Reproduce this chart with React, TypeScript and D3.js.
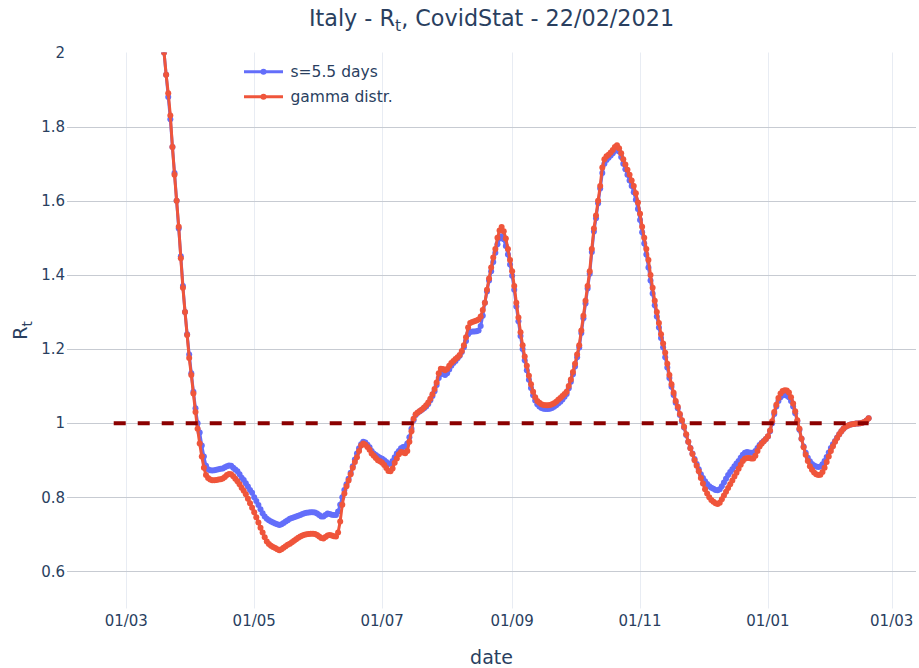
import React from "react";
import * as d3 from "d3";

// ---------- data ----------
const SERIES_NAMES = ["s=5.5 days", "gamma distr."];
const SERIES_COLORS = ["#636efa", "#ef553b"];
const START_DATE = "2020-03-16"; // first daily value, one value per day
const BLUE_VALUES = [
  2.2, 2.13, 2.06, 2.0, 1.94, 1.88, 1.82, 1.745, 1.675, 1.6,
  1.525, 1.45, 1.37, 1.3, 1.24, 1.185, 1.135, 1.085, 1.04, 1.0,
  0.975, 0.94, 0.91, 0.885, 0.876, 0.873, 0.872, 0.873, 0.874, 0.876,
  0.877, 0.878, 0.881, 0.884, 0.886, 0.885, 0.88, 0.875, 0.87, 0.862,
  0.853, 0.847, 0.838, 0.829, 0.82, 0.812, 0.8, 0.79, 0.779, 0.768,
  0.757, 0.748, 0.742, 0.738, 0.735, 0.732, 0.729, 0.727, 0.725, 0.727,
  0.731, 0.735, 0.738, 0.742, 0.744, 0.746, 0.748, 0.75, 0.752, 0.755,
  0.757, 0.758, 0.759, 0.76, 0.76, 0.759, 0.756, 0.752, 0.748, 0.748,
  0.752, 0.756, 0.755, 0.753, 0.752, 0.752, 0.762, 0.78, 0.8, 0.82,
  0.835, 0.85, 0.866, 0.884, 0.902, 0.918, 0.932, 0.943, 0.95, 0.948,
  0.942, 0.935, 0.925, 0.918, 0.914, 0.91, 0.907, 0.904, 0.9, 0.895,
  0.89, 0.891, 0.898, 0.908, 0.918, 0.925, 0.932, 0.936, 0.937, 0.945,
  0.962, 0.985, 1.008, 1.022, 1.028, 1.032, 1.036, 1.04, 1.045, 1.052,
  1.062, 1.073, 1.086, 1.103, 1.122, 1.132, 1.133, 1.13, 1.135, 1.145,
  1.155, 1.162, 1.168, 1.175, 1.182, 1.192, 1.205, 1.222, 1.24, 1.246,
  1.247, 1.247, 1.248, 1.25, 1.262, 1.29, 1.325, 1.355, 1.385, 1.41,
  1.435, 1.46, 1.483, 1.498, 1.504, 1.496, 1.478, 1.455, 1.428, 1.398,
  1.36, 1.315, 1.275, 1.235, 1.2, 1.17, 1.143, 1.117, 1.095, 1.075,
  1.061, 1.051, 1.045, 1.041, 1.039, 1.038, 1.038, 1.039, 1.041, 1.044,
  1.048, 1.053, 1.058, 1.064, 1.071, 1.079, 1.094, 1.112, 1.132, 1.153,
  1.178, 1.204, 1.243, 1.283, 1.323, 1.363, 1.403, 1.462, 1.517, 1.553,
  1.593, 1.633, 1.675, 1.7, 1.71, 1.716, 1.722, 1.728, 1.735, 1.742,
  1.733, 1.718, 1.7, 1.685, 1.67, 1.655, 1.64, 1.623, 1.603, 1.578,
  1.548, 1.515, 1.485, 1.455, 1.42, 1.385, 1.35, 1.318, 1.288, 1.258,
  1.23, 1.205, 1.178, 1.15, 1.122, 1.098, 1.076, 1.055, 1.04, 1.022,
  1.005, 0.988, 0.968, 0.95, 0.933, 0.918, 0.903, 0.89, 0.876, 0.862,
  0.852, 0.843, 0.836, 0.83, 0.826, 0.823, 0.82, 0.819, 0.822, 0.83,
  0.84, 0.85, 0.86, 0.868, 0.876, 0.884, 0.891, 0.898, 0.907, 0.915,
  0.92, 0.922, 0.921, 0.92, 0.92, 0.925, 0.933, 0.941, 0.947, 0.952,
  0.957, 0.964, 0.978, 1.0, 1.025, 1.045, 1.06, 1.07, 1.075, 1.076,
  1.074, 1.07, 1.06, 1.045, 1.027, 1.005, 0.982, 0.958, 0.937, 0.92,
  0.907, 0.897, 0.89, 0.886, 0.883, 0.882, 0.883, 0.889, 0.898, 0.909,
  0.921, 0.933, 0.943, 0.952, 0.961, 0.97, 0.978, 0.985, 0.99, 0.993,
  0.996, 0.997, 0.998, 0.999, 0.999, 1.0, 1.001, 1.003, 1.007, 1.013,
];
const RED_VALUES = [
  2.21, 2.14, 2.07, 2.0, 1.94, 1.89, 1.83, 1.745, 1.67, 1.6,
  1.53, 1.445, 1.365, 1.3, 1.238, 1.176, 1.13, 1.08, 1.03, 0.985,
  0.945, 0.91, 0.88, 0.86, 0.852, 0.848, 0.846, 0.846, 0.847, 0.848,
  0.849, 0.851, 0.855, 0.86, 0.863, 0.862, 0.857, 0.85, 0.843, 0.835,
  0.826, 0.818, 0.808, 0.796, 0.784, 0.772, 0.76, 0.746, 0.732, 0.718,
  0.705, 0.692, 0.681, 0.674, 0.669, 0.666, 0.663, 0.66, 0.657, 0.66,
  0.664, 0.668, 0.672, 0.675, 0.679, 0.683, 0.687, 0.691, 0.694, 0.697,
  0.699, 0.7, 0.701, 0.702, 0.702, 0.701, 0.698, 0.694, 0.69, 0.689,
  0.693, 0.697, 0.698, 0.697, 0.695, 0.694, 0.705, 0.735, 0.78, 0.81,
  0.83, 0.845, 0.862, 0.88, 0.895, 0.908, 0.925, 0.94, 0.945, 0.942,
  0.936, 0.928, 0.918, 0.912, 0.906, 0.9, 0.897, 0.893, 0.887, 0.879,
  0.871, 0.87, 0.878, 0.893, 0.905, 0.916, 0.922, 0.921, 0.919, 0.925,
  0.95, 0.978, 1.012, 1.024, 1.029, 1.033, 1.037, 1.042, 1.048, 1.056,
  1.066, 1.078, 1.092, 1.11, 1.135, 1.147, 1.146, 1.143, 1.146, 1.155,
  1.162, 1.168, 1.173, 1.178, 1.184, 1.195, 1.21, 1.232, 1.258, 1.27,
  1.273, 1.275, 1.277, 1.28, 1.288, 1.305, 1.325, 1.36, 1.39, 1.42,
  1.447, 1.47, 1.5, 1.52, 1.529, 1.518, 1.498, 1.47, 1.44, 1.41,
  1.37, 1.325, 1.285, 1.245, 1.21, 1.18, 1.155, 1.128, 1.105, 1.085,
  1.07, 1.06, 1.055, 1.051, 1.049, 1.048, 1.048, 1.049, 1.051, 1.054,
  1.058, 1.063, 1.068, 1.073, 1.079, 1.085, 1.1, 1.118, 1.138, 1.16,
  1.185, 1.21, 1.25, 1.29, 1.33, 1.37, 1.41, 1.47, 1.525, 1.56,
  1.6, 1.64, 1.69, 1.712, 1.72, 1.724, 1.73, 1.737, 1.745, 1.75,
  1.742, 1.728, 1.712, 1.698, 1.684, 1.67, 1.655, 1.64, 1.62, 1.595,
  1.565, 1.53, 1.5, 1.47, 1.44, 1.4, 1.365, 1.33, 1.3, 1.27,
  1.24, 1.215, 1.19, 1.16, 1.13, 1.105, 1.082, 1.06, 1.044, 1.025,
  1.008, 0.99, 0.97, 0.95, 0.932, 0.917, 0.9, 0.885, 0.87, 0.852,
  0.837, 0.822, 0.81, 0.8, 0.793, 0.788, 0.784, 0.782, 0.785, 0.795,
  0.805, 0.815, 0.825, 0.835, 0.845, 0.856, 0.866, 0.877, 0.888, 0.898,
  0.904, 0.906, 0.906, 0.905, 0.905, 0.912, 0.925, 0.937, 0.945, 0.951,
  0.957, 0.965, 0.98, 1.005, 1.03, 1.05, 1.068, 1.08, 1.087, 1.089,
  1.088, 1.083, 1.07, 1.053, 1.032, 1.008, 0.985, 0.958, 0.935, 0.915,
  0.898, 0.884, 0.874, 0.867, 0.862, 0.86, 0.861, 0.868, 0.88, 0.895,
  0.91, 0.925, 0.938, 0.95, 0.96, 0.97, 0.978, 0.985, 0.99, 0.993,
  0.996, 0.997, 0.998, 0.999, 0.999, 1.0, 1.001, 1.003, 1.007, 1.013,
];
const THRESHOLD_DATES = ["2020-02-24", "2021-02-18"];
const THRESHOLD_VALUES = [1, 1];
const Y_TICKS = [0.6, 0.8, 1, 1.2, 1.4, 1.6, 1.8, 2];
const X_DOMAIN = ["2020-02-01T17:17:00Z", "2021-03-12T14:24:00Z"];
const Y_DOMAIN = [0.5, 2.0];
const TITLE_PARTS = ["Italy - R", "t", ", CovidStat - 22/02/2021"];
const X_TITLE = "date";
const Y_TITLE_PARTS = ["R", "t"];

// ---------- layout ----------
const W = 919;
const H = 668;
const PL = 67;
const PR = 916;
const PT = 52.5;
const PB = 608.5;
const FONT = "'DejaVu Sans', Verdana, sans-serif";
const TEXT = "#2a3f5f";

export default function App() {
  const x = d3.scaleUtc().domain(X_DOMAIN.map((s) => new Date(s))).range([PL, PR]);
  const y = d3.scaleLinear().domain(Y_DOMAIN).range([PB, PT]);
  const start = new Date(START_DATE + "T00:00:00Z");
  const mk = (vals: number[]) =>
    vals.map((v, i) => ({ date: d3.utcDay.offset(start, i), v }));
  const series = [mk(BLUE_VALUES), mk(RED_VALUES)];
  const line = d3
    .line<{ date: Date; v: number }>()
    .x((d) => x(d.date))
    .y((d) => y(d.v));
  const thr = THRESHOLD_DATES.map((s, i) => ({
    date: new Date(s + "T00:00:00Z"),
    v: THRESHOLD_VALUES[i],
  }));
  const xTicks = x.ticks(d3.utcMonth.every(2) as any);
  const fmt = d3.utcFormat("%d/%m");
  const yFmt = d3.format("~g");

  return (
    <svg
      width={W}
      height={H}
      style={{ position: "absolute", left: 0, top: 0, background: "#fff" }}
      fontFamily={FONT}
    >
      <defs>
        <clipPath id="plotclip">
          <rect x={PL} y={PT} width={PR - PL} height={PB - PT} />
        </clipPath>
      </defs>
      <rect x={0} y={0} width={W} height={H} fill="#fff" />
      {/* vertical grid */}
      {xTicks.map((t, i) => (
        <line
          key={"xg" + i}
          x1={Math.round(x(t)) + 0.5}
          x2={Math.round(x(t)) + 0.5}
          y1={PT}
          y2={PB}
          stroke="#e8ecf3"
          strokeWidth={1}
        />
      ))}
      {/* horizontal grid */}
      {Y_TICKS.filter((t) => t < Y_DOMAIN[1]).map((t, i) => (
        <line
          key={"yg" + i}
          x1={PL}
          x2={PR}
          y1={Math.round(y(t)) + 0.5}
          y2={Math.round(y(t)) + 0.5}
          stroke="#c7cbd2"
          strokeWidth={1}
        />
      ))}
      {/* x tick labels */}
      {xTicks.map((t, i) => (
        <text
          key={"xl" + i}
          x={x(t)}
          y={626}
          textAnchor="middle"
          fontSize={15}
          fill={TEXT}
        >
          {fmt(t)}
        </text>
      ))}
      {/* y tick labels */}
      {Y_TICKS.map((t, i) => (
        <text
          key={"yl" + i}
          x={65}
          y={y(t)}
          dy="0.35em"
          textAnchor="end"
          fontSize={15}
          fill={TEXT}
        >
          {yFmt(t)}
        </text>
      ))}
      {/* series */}
      <g clipPath="url(#plotclip)">
        {series.map((s, k) => (
          <g key={"s" + k}>
            <path
              d={line(s) || ""}
              fill="none"
              stroke={SERIES_COLORS[k]}
              strokeWidth={3}
              strokeLinejoin="round"
            />
            {s.map((d, i) => (
              <circle
                key={i}
                cx={x(d.date)}
                cy={y(d.v)}
                r={3}
                fill={SERIES_COLORS[k]}
              />
            ))}
          </g>
        ))}
        <path
          d={line(thr) || ""}
          fill="none"
          stroke="#8b0000"
          strokeWidth={4}
          strokeDasharray="12,12"
        />
      </g>
      {/* legend */}
      {SERIES_NAMES.map((n, k) => (
        <g key={"lg" + k} transform={`translate(0,${71.7 + k * 25})`}>
          <line x1={244} x2={283} y1={0} y2={0} stroke={SERIES_COLORS[k]} strokeWidth={3} />
          <circle cx={263.5} cy={0} r={3} fill={SERIES_COLORS[k]} />
          <text x={290.5} y={0} dy="0.35em" fontSize={15.5} fill={TEXT}>
            {n}
          </text>
        </g>
      ))}
      {/* title */}
      <text x={(PL + PR) / 2} y={26} textAnchor="middle" fontSize={22.3} fill={TEXT}>
        {TITLE_PARTS[0]}
        <tspan dy={5} fontSize={15.6}>
          {TITLE_PARTS[1]}
        </tspan>
        <tspan dy={-5}>{TITLE_PARTS[2]}</tspan>
      </text>
      {/* axis titles */}
      <text x={(PL + PR) / 2} y={664} textAnchor="middle" fontSize={19} fill={TEXT}>
        {X_TITLE}
      </text>
      <text
        transform={`translate(27,${(PT + PB) / 2}) rotate(-90)`}
        textAnchor="middle"
        fontSize={19}
        fill={TEXT}
      >
        {Y_TITLE_PARTS[0]}
        <tspan dy={4.5} fontSize={13.3}>
          {Y_TITLE_PARTS[1]}
        </tspan>
      </text>
    </svg>
  );
}
